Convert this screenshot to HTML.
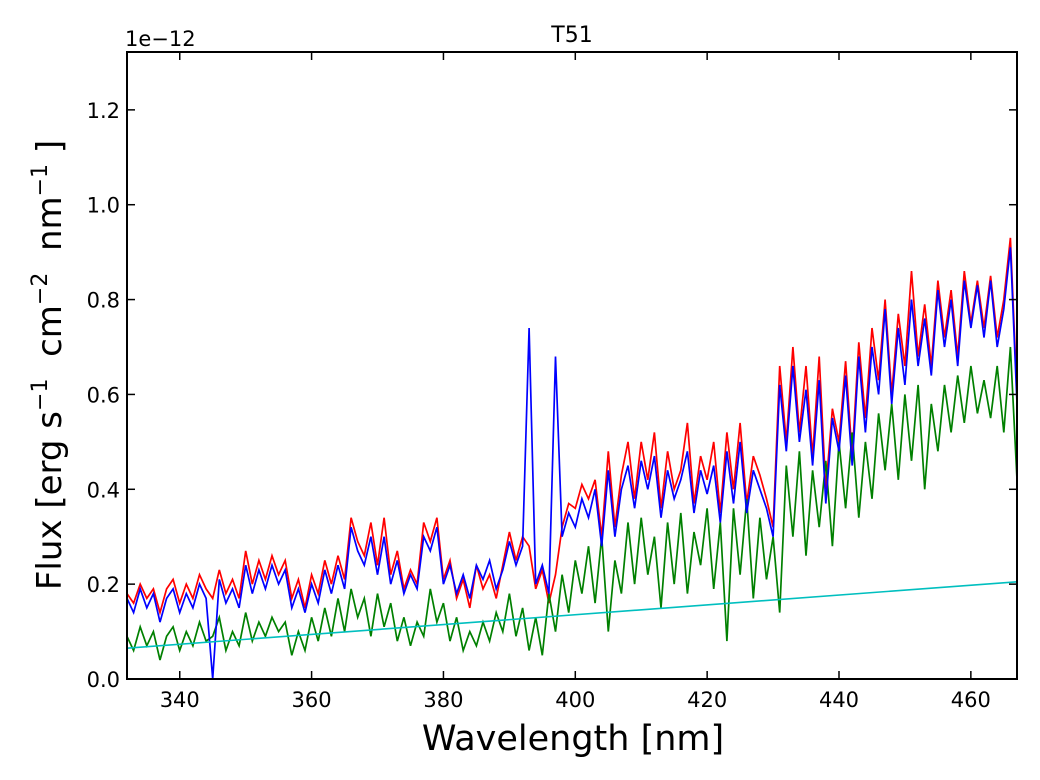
<!DOCTYPE html>
<html><head><meta charset="utf-8"><style>
body{margin:0;background:#fff;}
svg text{font-family:"DejaVu Sans","Liberation Sans",sans-serif;}
</style></head><body>
<svg id="chart" width="1040" height="780" xmlns="http://www.w3.org/2000/svg" style="position:absolute;left:0;top:0"></svg>
<script>
const wlStart = 332;
const xTicks = [340,360,380,400,420,440,460];
const yTicks = [0.0,0.2,0.4,0.6,0.8,1.0,1.2];
const blue = [.17,.14,.19,.15,.18,.12,.17,.19,.14,.18,.15,.20,.17,.00,.21,.16,.19,.15,.24,.18,.23,.19,.24,.20,.23,.15,.19,.14,.20,.16,.23,.18,.24,.19,.32,.27,.24,.30,.22,.30,.20,.25,.18,.22,.19,.30,.27,.32,.20,.24,.18,.22,.17,.24,.21,.25,.19,.23,.29,.24,.28,.74,.20,.24,.18,.68,.30,.35,.32,.38,.34,.40,.28,.44,.30,.40,.45,.36,.46,.40,.47,.34,.44,.38,.42,.48,.35,.44,.39,.45,.33,.48,.37,.50,.35,.44,.40,.36,.30,.62,.48,.66,.50,.61,.45,.63,.37,.55,.48,.64,.45,.68,.52,.70,.60,.78,.58,.74,.62,.80,.66,.76,.64,.82,.70,.80,.66,.84,.74,.83,.72,.84,.70,.78,.91,.58];
const red = [.18,.16,.20,.17,.19,.14,.19,.21,.16,.20,.17,.22,.19,.17,.23,.18,.21,.17,.27,.20,.25,.21,.26,.22,.25,.17,.21,.15,.22,.18,.25,.20,.26,.21,.34,.29,.26,.33,.24,.34,.22,.27,.19,.23,.20,.33,.29,.34,.21,.25,.17,.21,.15,.24,.19,.22,.17,.24,.31,.25,.30,.28,.19,.23,.16,.22,.32,.37,.36,.41,.38,.42,.30,.48,.32,.43,.50,.38,.50,.42,.52,.36,.48,.40,.44,.54,.37,.47,.42,.50,.35,.52,.40,.54,.37,.47,.43,.38,.32,.66,.50,.70,.52,.66,.47,.68,.40,.57,.50,.67,.47,.71,.55,.74,.63,.80,.60,.77,.66,.86,.68,.79,.66,.84,.72,.82,.68,.86,.75,.84,.74,.85,.72,.80,.93,.60];
const green = [.09,.06,.11,.07,.10,.04,.09,.11,.06,.10,.07,.12,.08,.09,.13,.06,.10,.07,.14,.08,.12,.09,.13,.10,.12,.05,.10,.06,.13,.08,.15,.09,.17,.10,.19,.13,.17,.09,.18,.11,.16,.08,.13,.07,.12,.09,.19,.12,.16,.08,.13,.06,.10,.07,.12,.08,.14,.10,.18,.09,.15,.06,.13,.05,.18,.10,.22,.14,.25,.18,.28,.16,.30,.10,.25,.18,.33,.20,.34,.22,.30,.15,.33,.20,.35,.18,.31,.24,.36,.19,.33,.08,.36,.22,.38,.17,.34,.21,.30,.14,.45,.30,.48,.26,.44,.32,.46,.28,.50,.36,.52,.34,.50,.38,.56,.44,.58,.42,.60,.46,.62,.40,.58,.48,.62,.52,.64,.54,.66,.56,.63,.55,.66,.52,.70,.42];
const cyanEnds = [0.065,0.205];

const L=127,R=1017,T=52,B=679, xmin=332,xmax=467,ymin=0,ymax=1.322;
const sx=v=>L+(v-xmin)/(xmax-xmin)*(R-L);
const sy=v=>B-(v-ymin)/(ymax-ymin)*(B-T);
const NS="http://www.w3.org/2000/svg", svg=document.getElementById('chart');
function mk(t,a){const e=document.createElementNS(NS,t);for(const k in a)e.setAttribute(k,a[k]);svg.appendChild(e);return e;}
const clip=mk('clipPath',{id:'pc'});const cr=document.createElementNS(NS,'rect');cr.setAttribute('x',L);cr.setAttribute('y',T);cr.setAttribute('width',R-L);cr.setAttribute('height',B-T);clip.appendChild(cr);
function series(arr,color,name){
  const d=arr.map((v,i)=>(i?'L':'M')+sx(wlStart+i).toFixed(1)+','+sy(v).toFixed(1)).join('');
  const p=mk('path',{d:d,fill:'none',stroke:color,'stroke-width':1.7,'clip-path':'url(#pc)'});
  
  
}
series(red,'#ff0000','red-series');
series(green,'#008000','green-series');
series(blue,'#0000ff','blue-series');
const cy=mk('line',{x1:sx(xmin),y1:sy(cyanEnds[0]),x2:sx(xmax),y2:sy(cyanEnds[1]),stroke:'#00bfbf','stroke-width':1.6});


const fr=mk('rect',{x:L,y:T,width:R-L,height:B-T,fill:'none',stroke:'#000','stroke-width':2});


xTicks.forEach(t=>{const x=sx(t);
  mk('line',{x1:x,y1:B,x2:x,y2:B-8,stroke:'#000','stroke-width':1.5});
  mk('line',{x1:x,y1:T,x2:x,y2:T+8,stroke:'#000','stroke-width':1.5});
  const tx=mk('text',{x:x,y:B+28,'font-size':21,'text-anchor':'middle'});tx.textContent=t;
  
  
});
yTicks.forEach(t=>{const y=sy(t);
  mk('line',{x1:L,y1:y,x2:L+8,y2:y,stroke:'#000','stroke-width':1.5});
  mk('line',{x1:R,y1:y,x2:R-8,y2:y,stroke:'#000','stroke-width':1.5});
  const tx=mk('text',{x:L-7,y:y+8,'font-size':21,'text-anchor':'end'});tx.textContent=t.toFixed(1);
  
  
});
</script>
<svg style="position:absolute;left:0;top:0" width="1040" height="780">
<text x="572" y="42" font-size="22" text-anchor="middle" font-family="DejaVu Sans, sans-serif">T51</text>
<text x="125" y="46" font-size="21" font-family="DejaVu Sans, sans-serif">1e−12</text>
<text x="573" y="750" font-size="35" text-anchor="middle" font-family="DejaVu Sans, sans-serif">Wavelength [nm]</text>
<text transform="translate(61,365) rotate(-90)" font-size="34" text-anchor="middle" font-family="DejaVu Sans, sans-serif" xml:space="preserve">Flux [erg s<tspan font-size="22" dy="-14">−1</tspan><tspan dy="14">  cm</tspan><tspan font-size="22" dy="-14">−2</tspan><tspan dy="14">  nm</tspan><tspan font-size="22" dy="-14">−1</tspan><tspan dy="14"> ]</tspan></text>
</svg>
</body></html>
